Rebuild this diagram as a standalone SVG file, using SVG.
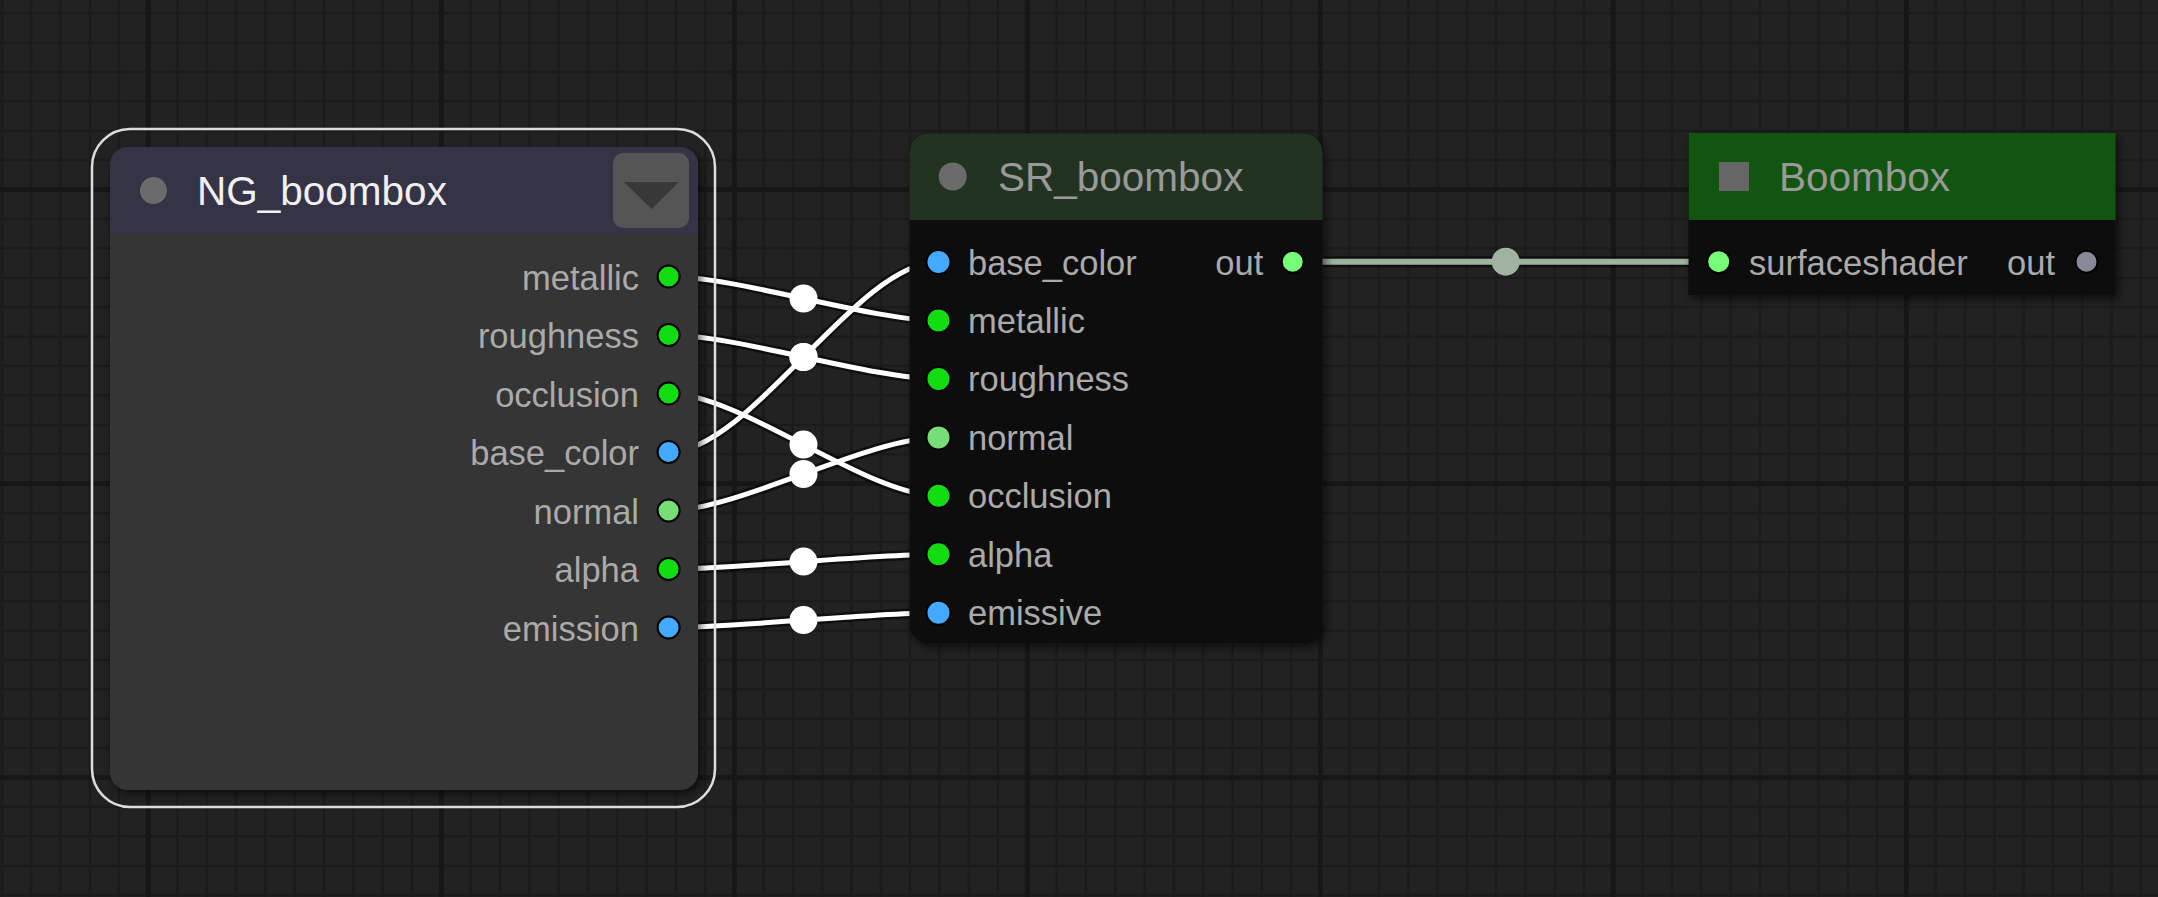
<svg xmlns="http://www.w3.org/2000/svg" width="2158" height="897" viewBox="0 0 2158 897">
<style>
text{font-family:"Liberation Sans",Arial,Helvetica,sans-serif}
.lbl{font-size:34.5px;fill:#aaaaaa}
.ttl{font-size:40.5px}
.end{text-anchor:end}
.sock{stroke:#000;stroke-width:2}
.g{fill:#11dd11}.b{fill:#44aaff}.n{fill:#77dd77}.o{fill:#77ff77}.x{fill:#888899}
.lk-bd{fill:none;stroke:#000;stroke-opacity:0.55;stroke-width:10}
.lk{fill:none;stroke:#ffffff;stroke-width:5}
.mid{fill:#ffffff}
</style>
<defs>
<pattern id="grid" patternUnits="userSpaceOnUse" x="145.8" y="187.1" width="293" height="294">
<rect width="293" height="294" fill="#222222"/>
<path d="M31.8,0V294M61.1,0V294M90.4,0V294M119.7,0V294M149,0V294M178.3,0V294M207.6,0V294M236.9,0V294M266.2,0V294M0,31.9H293M0,61.3H293M0,90.7H293M0,120.1H293M0,149.5H293M0,178.9H293M0,208.3H293M0,237.7H293M0,267.1H293" stroke="#1b1b1b" stroke-width="2.6" fill="none"/>
<rect x="0" y="0" width="5" height="294" fill="#171717"/>
<rect x="0" y="0" width="293" height="5" fill="#171717"/>
</pattern>
<filter id="sh" x="-10%" y="-10%" width="125%" height="125%">
<feDropShadow dx="3" dy="4" stdDeviation="5" flood-color="#000" flood-opacity="0.6"/>
</filter>
</defs>
<rect width="2158" height="897" fill="url(#grid)"/>

<g id="connectors">
<path class="lk-bd" d="M668.6,276.5C737,276.5 870.1,320.5 938.5,320.5"/>
<path class="lk-bd" d="M668.6,335C737,335 870.1,378.9 938.5,378.9"/>
<path class="lk-bd" d="M668.6,393.5C740.8,393.5 866.3,495.8 938.5,495.8"/>
<path class="lk-bd" d="M668.6,452C751.1,452 856,262 938.5,262"/>
<path class="lk-bd" d="M668.6,510.5C738.5,510.5 868.6,437.4 938.5,437.4"/>
<path class="lk-bd" d="M668.6,569C736.2,569 870.9,554.3 938.5,554.3"/>
<path class="lk-bd" d="M668.6,627.5C736.2,627.5 870.9,612.7 938.5,612.7"/>
<path class="lk" d="M668.6,276.5C737,276.5 870.1,320.5 938.5,320.5"/>
<path class="lk" d="M668.6,335C737,335 870.1,378.9 938.5,378.9"/>
<path class="lk" d="M668.6,393.5C740.8,393.5 866.3,495.8 938.5,495.8"/>
<path class="lk" d="M668.6,452C751.1,452 856,262 938.5,262"/>
<path class="lk" d="M668.6,510.5C738.5,510.5 868.6,437.4 938.5,437.4"/>
<path class="lk" d="M668.6,569C736.2,569 870.9,554.3 938.5,554.3"/>
<path class="lk" d="M668.6,627.5C736.2,627.5 870.9,612.7 938.5,612.7"/>
<circle class="mid" cx="803.5" cy="298.5" r="14"/>
<circle class="mid" cx="803.5" cy="357" r="14"/>
<circle class="mid" cx="803.5" cy="444.6" r="14"/>
<circle class="mid" cx="803.5" cy="357" r="14"/>
<circle class="mid" cx="803.5" cy="474" r="14"/>
<circle class="mid" cx="803.5" cy="561.6" r="14"/>
<circle class="mid" cx="803.5" cy="620.1" r="14"/>
<path d="M1292.7,261.7H1718.7" fill="none" stroke="#000" stroke-opacity="0.55" stroke-width="11"/>
<path d="M1292.7,261.7H1718.7" fill="none" stroke="#a0b2a0" stroke-width="6"/>
<circle cx="1505.7" cy="261.7" r="14" fill="#a0b2a0"/>
</g>

<g id="NG_boombox">
<rect x="110" y="147" width="588" height="643" rx="18" fill="#353535" filter="url(#sh)"/>
<path d="M110,234V165a18,18 0 0 1 18,-18H680a18,18 0 0 1 18,18V234Z" fill="#343446"/>
<rect x="92" y="129" width="623" height="678" rx="38" fill="none" stroke="#dddddd" stroke-width="2.5"/>
<circle cx="153.5" cy="190.5" r="13.5" fill="#6b6b6b"/>
<text class="ttl" x="197" y="205" fill="#f0f0f0">NG_boombox</text>
<rect x="613" y="153" width="76" height="75" rx="10" fill="#555555"/>
<path d="M624,182H679L651.5,209Z" fill="#383838"/>
<text class="lbl end" x="639" y="289.5">metallic</text>
<text class="lbl end" x="639" y="348">roughness</text>
<text class="lbl end" x="639" y="406.5">occlusion</text>
<text class="lbl end" x="639" y="465">base_color</text>
<text class="lbl end" x="639" y="523.5">normal</text>
<text class="lbl end" x="639" y="582">alpha</text>
<text class="lbl end" x="639" y="640.5">emission</text>
<circle class="sock g" cx="668.6" cy="276.5" r="11"/>
<circle class="sock g" cx="668.6" cy="335" r="11"/>
<circle class="sock g" cx="668.6" cy="393.5" r="11"/>
<circle class="sock b" cx="668.6" cy="452" r="11"/>
<circle class="sock n" cx="668.6" cy="510.5" r="11"/>
<circle class="sock g" cx="668.6" cy="569" r="11"/>
<circle class="sock b" cx="668.6" cy="627.5" r="11"/>
</g>

<g id="SR_boombox">
<rect x="909.5" y="133.5" width="413" height="510" rx="19" fill="#111111" filter="url(#sh)"/>
<path d="M909.5,220V152.5a19,19 0 0 1 19,-19H1303.5a19,19 0 0 1 19,19V220Z" fill="#223322"/>
<circle cx="952.7" cy="176.5" r="14" fill="#6b6b6b"/>
<text class="ttl" x="998" y="191" fill="#999999">SR_boombox</text>
<text class="lbl" x="968" y="274.5">base_color</text>
<text class="lbl" x="968" y="333">metallic</text>
<text class="lbl" x="968" y="391.4">roughness</text>
<text class="lbl" x="968" y="449.9">normal</text>
<text class="lbl" x="968" y="508.3">occlusion</text>
<text class="lbl" x="968" y="566.8">alpha</text>
<text class="lbl" x="968" y="625.2">emissive</text>
<circle class="sock b" cx="938.5" cy="262" r="12" stroke="#111"/>
<circle class="sock g" cx="938.5" cy="320.5" r="12" stroke="#111"/>
<circle class="sock g" cx="938.5" cy="378.9" r="12" stroke="#111"/>
<circle class="sock n" cx="938.5" cy="437.4" r="12" stroke="#111"/>
<circle class="sock g" cx="938.5" cy="495.8" r="12" stroke="#111"/>
<circle class="sock g" cx="938.5" cy="554.3" r="12" stroke="#111"/>
<circle class="sock b" cx="938.5" cy="612.7" r="12" stroke="#111"/>
<text class="lbl end" x="1263.3" y="274.5">out</text>
<circle class="sock o" cx="1292.7" cy="261.7" r="11"/>
</g>

<g id="Boombox">
<rect x="1688.6" y="133" width="427" height="162" fill="#111111" filter="url(#sh)"/>
<rect x="1688.6" y="133" width="427" height="87" fill="#115511"/>
<rect x="1719" y="162" width="30" height="29" fill="#666666"/>
<text class="ttl" x="1779" y="191" fill="#999999">Boombox</text>
<circle class="sock o" cx="1718.7" cy="261.7" r="11.5" stroke="#111"/>
<text class="lbl" x="1749" y="274.5">surfaceshader</text>
<text class="lbl end" x="2055" y="274.5">out</text>
<circle class="sock x" cx="2086.5" cy="261.7" r="11"/>
</g>
</svg>
